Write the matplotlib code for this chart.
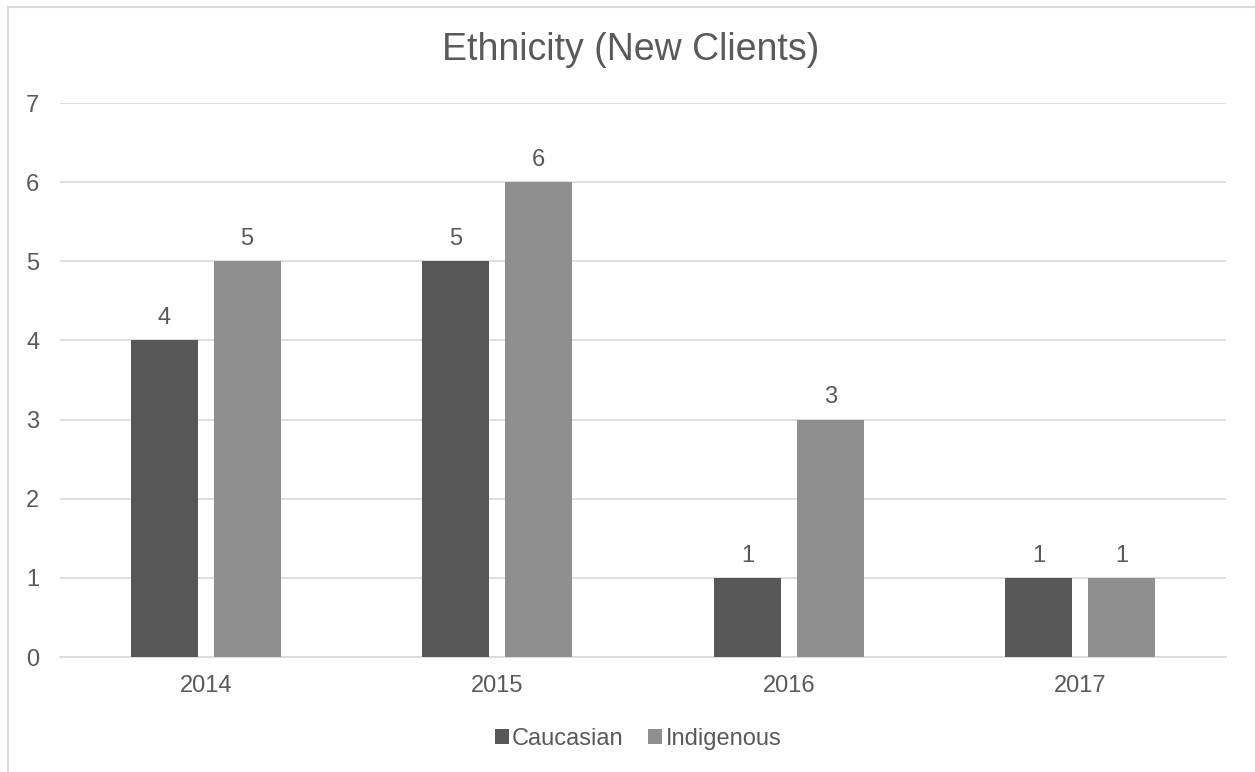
import matplotlib
matplotlib.use("Agg")
import matplotlib.pyplot as plt
from matplotlib.patches import Rectangle
import numpy as np

years = ["2014", "2015", "2016", "2017"]
caucasian = [4, 5, 1, 1]
indigenous = [5, 6, 3, 1]
y_ticks = [0, 1, 2, 3, 4, 5, 6, 7]

text_color = "#595959"
grid_color = "#d9d9d9"
dark = "#575757"
light = "#8f8f8f"
fs = 17

plt.rcParams["font.family"] = ["Liberation Sans", "DejaVu Sans"]

fig = plt.figure(figsize=(12.55, 7.72), dpi=100)
ax = fig.add_axes([60 / 1255, 1 - 657 / 772, 1166 / 1255, 554 / 772])

# outer chart border (left and top edges visible)
fig.patches.append(Rectangle((8 / 1255, -0.05), 1.2, 1.05 - 7 / 772,
                             transform=fig.transFigure, fill=False,
                             edgecolor="#d9d9d9", linewidth=1.5, zorder=0))

x = np.arange(len(years))
w = 0.23
off = 0.142
b1 = ax.bar(x - off, caucasian, w, color=dark, label="Caucasian", zorder=3)
b2 = ax.bar(x + off, indigenous, w, color=light, label="Indigenous", zorder=3)

for bars, vals in ((b1, caucasian), (b2, indigenous)):
    for rect, v in zip(bars, vals):
        ax.annotate(str(v), (rect.get_x() + rect.get_width() / 2, v),
                    xytext=(0, 8), textcoords="offset points",
                    ha="center", va="bottom", fontsize=fs, color=text_color)

ax.set_xlim(-0.5, len(years) - 0.5)
ax.set_ylim(0, 7)
ax.set_yticks(y_ticks)
ax.set_xticks(x)
ax.set_xticklabels(years)
ax.tick_params(axis="both", length=0, labelsize=fs, labelcolor=text_color)
ax.tick_params(axis="y", pad=15)
ax.tick_params(axis="x", pad=13)
ax.yaxis.grid(True, color=grid_color, linewidth=1.2, zorder=0)
ax.set_axisbelow(True)
for s in ("top", "right", "left"):
    ax.spines[s].set_visible(False)
ax.spines["bottom"].set_color(grid_color)
ax.spines["bottom"].set_linewidth(1.2)

fig.text(631 / 1255, 1 - 50 / 772, "Ethnicity (New Clients)", ha="center", va="center",
         fontsize=27, color=text_color)

leg = fig.legend(handles=[b1, b2], labels=["Caucasian", "Indigenous"],
                 loc="center", bbox_to_anchor=(638 / 1255, 1 - 739 / 772),
                 ncol=2, frameon=False, fontsize=fs, handlelength=0.6,
                 handleheight=0.6, handletextpad=0.13, columnspacing=1.05,
                 borderpad=0, borderaxespad=0)
for t in leg.get_texts():
    t.set_color(text_color)

fig.savefig("out.png", dpi=100, facecolor="white")
